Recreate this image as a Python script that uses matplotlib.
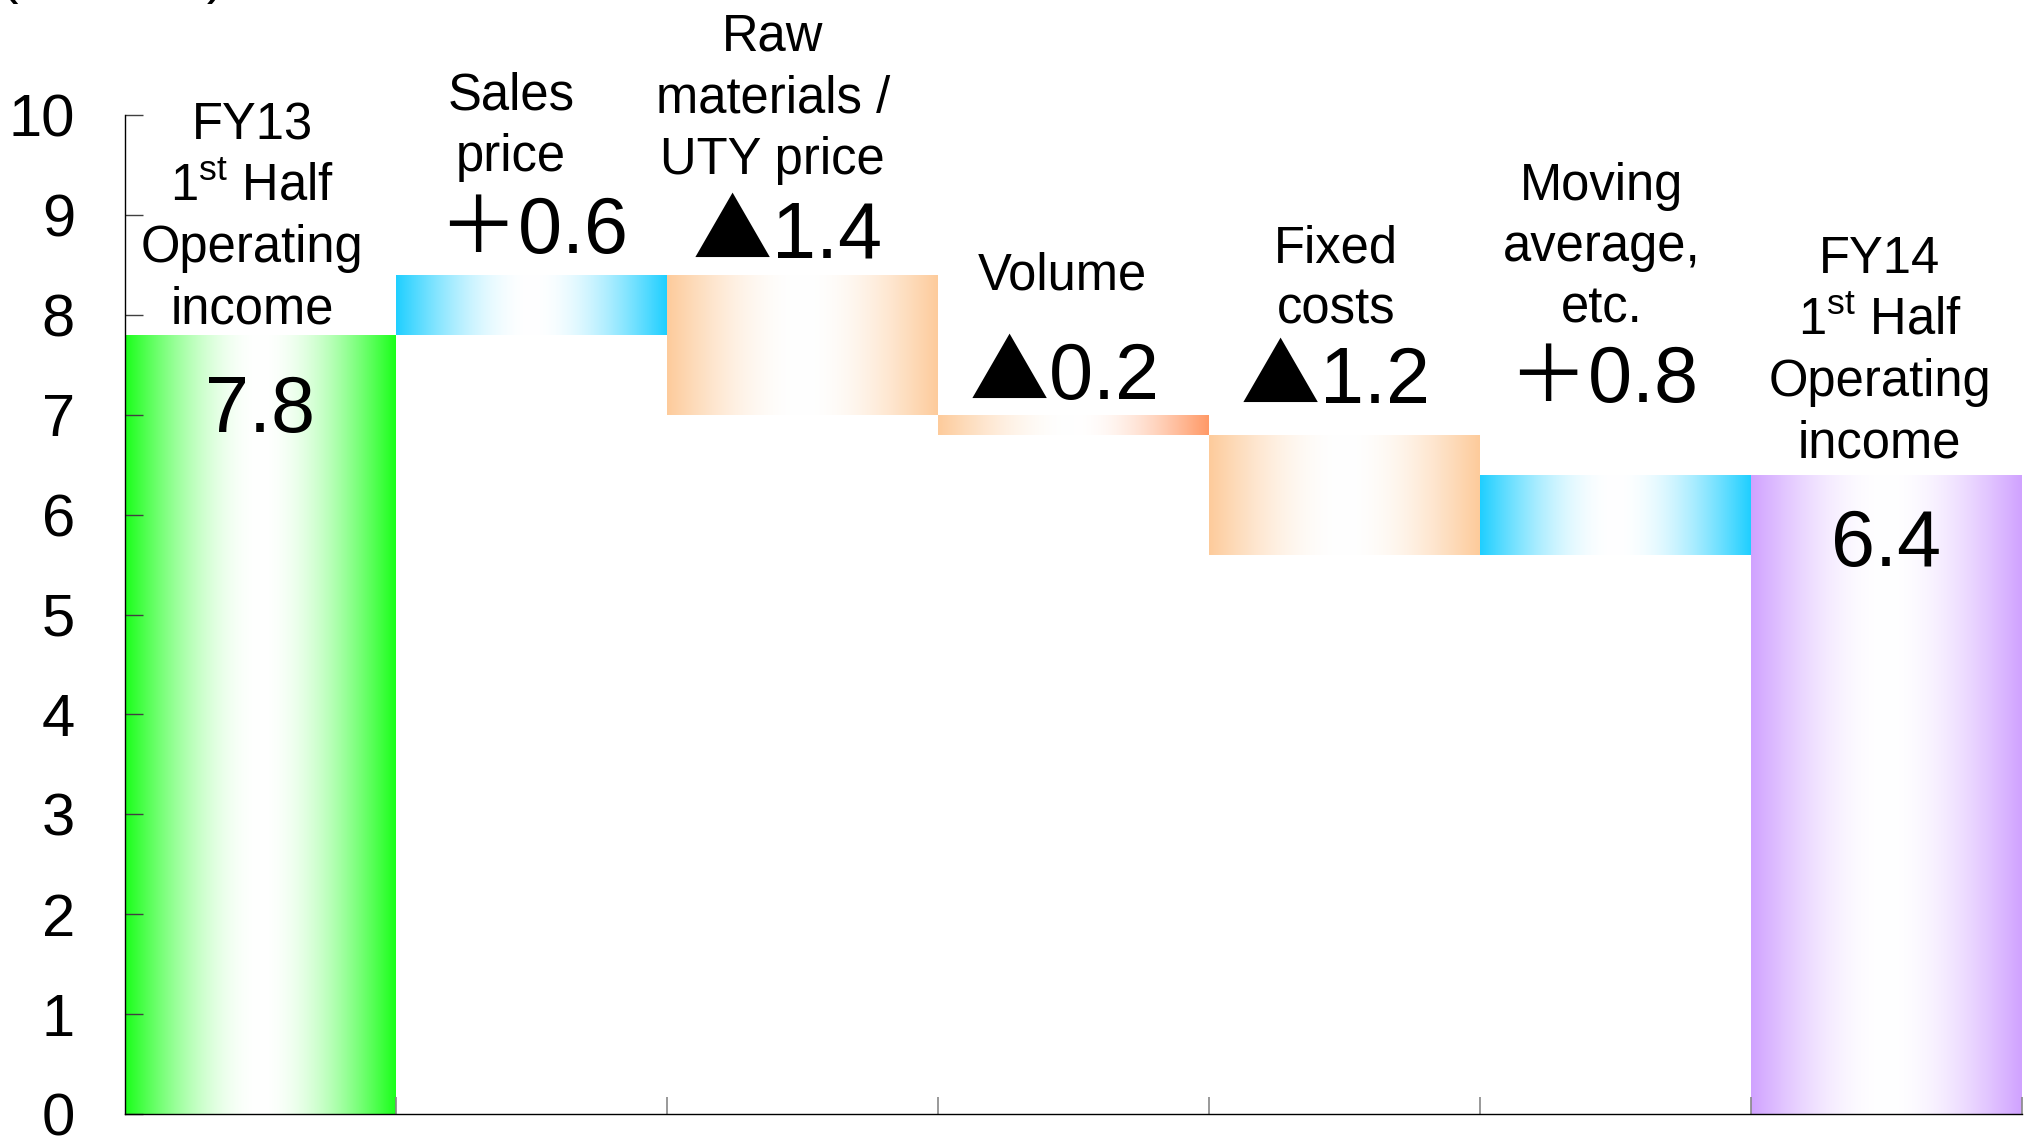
import numpy as np
import matplotlib
matplotlib.use("Agg")
import matplotlib.pyplot as plt
from matplotlib.colors import to_rgb

# ---------------- data ----------------
categories = [
    "FY13\n1$^{st}$ Half\nOperating\nincome",
    "Sales\nprice",
    "Raw\nmaterials /\nUTY price",
    "Volume",
    "Fixed\ncosts",
    "Moving\naverage,\netc.",
    "FY14\n1$^{st}$ Half\nOperating\nincome",
]
start_value = 7.8
changes = [0.6, -1.4, -0.2, -1.2, 0.8]
end_value = 6.4
value_labels = ["7.8", "＋0.6", "▲1.4", "▲0.2", "▲1.2", "＋0.8", "6.4"]
y_ticks = list(range(0, 11))
unit_label = "(¥ billion)"

# ---------------- layout / style ----------------
label_dx = [-0.03, -0.075, -0.11, -0.04, -0.03, -0.05, -0.025]
label_y = [7.91, 9.44, 9.41, 8.25, 7.91, 7.92, 6.57]   # baseline of last line
value_dx = [0.0, 0.0, -0.06, -0.04, -0.04, -0.05, 0.0]
value_y = [6.83, 8.62, 8.57, 7.16, 7.12, 7.13, 5.49]
bar_edge_colors = [
    ("#1aff1a", "#1aff1a"),
    ("#1fcfff", "#1fcfff"),
    ("#fdcb9b", "#fdcb9b"),
    ("#fdcb9b", "#ff9966"),
    ("#fdcb9b", "#fdcb9b"),
    ("#1fcfff", "#1fcfff"),
    ("#d0a2ff", "#d0a2ff"),
]

plt.rcParams["font.family"] = ["Liberation Sans", "Noto Sans CJK JP", "DejaVu Sans"]
plt.rcParams["mathtext.fontset"] = "custom"
plt.rcParams["mathtext.rm"] = "Liberation Sans"
plt.rcParams["mathtext.it"] = "Liberation Sans:italic"
plt.rcParams["mathtext.bf"] = "Liberation Sans:bold"
plt.rcParams["mathtext.sf"] = "Noto Sans CJK JP"
plt.rcParams["mathtext.default"] = "regular"

W, H = 2026, 1138
fig = plt.figure(figsize=(W / 100, H / 100), dpi=100)
ax = fig.add_axes([125 / W, (H - 1114) / H, (2022 - 125) / W, (1114 - 115) / H])

# waterfall geometry
levels = np.cumsum([start_value] + changes)
bottoms = [0.0]
heights = [start_value]
for i, c in enumerate(changes):
    bottoms.append(min(levels[i], levels[i + 1]))
    heights.append(abs(c))
bottoms.append(0.0)
heights.append(end_value)
x = np.arange(len(categories))

bars = ax.bar(x, heights, bottom=bottoms, width=1.0, color="none", edgecolor="none", zorder=1)

# horizontal gradient: edge colour -> white in the middle -> edge colour
N = 600
u = np.linspace(0, 1, N)
w = np.sin(np.pi * u)[:, None]
for i, b in enumerate(bars):
    cl, cr = (np.array(to_rgb(c)) for c in bar_edge_colors[i])
    base = np.where(u[:, None] < 0.5, cl[None, :], cr[None, :])
    rgb = base * (1 - w) + w
    img = rgb[None, :, :]
    x0 = b.get_x()
    y0 = b.get_y()
    im = ax.imshow(img, extent=[x0, x0 + b.get_width(), y0, y0 + b.get_height()],
                   aspect="auto", interpolation="bilinear", zorder=0.8)
    im.set_clip_path(b)

ax.set_xlim(-0.5, len(categories) - 0.5)
ax.set_ylim(0, 10)

# axes styling
for s in ("top", "right"):
    ax.spines[s].set_visible(False)
for s in ("left", "bottom"):
    ax.spines[s].set_color("black")
    ax.spines[s].set_linewidth(1.0)

ax.set_yticks(y_ticks)
ax.set_yticklabels([str(t) for t in y_ticks])
ax.tick_params(axis="y", direction="in", length=13, width=1.0, color="#404040",
               pad=36, labelsize=43, labelcolor="black")
ax.set_xticks(np.arange(0.5, len(categories), 1.0))
ax.tick_params(axis="x", direction="in", length=12.5, width=1.2, color="#888888",
               labelbottom=False)


def fmt_value(s):
    if s and s[0] in "＋▲":
        return r"$\mathsf{" + s[0] + "}$" + s[1:]
    return s


# labels
for i in range(len(categories)):
    ax.text(i + label_dx[i], label_y[i], categories[i], ha="center", va="baseline",
            fontsize=36.5, linespacing=1.33, multialignment="center", color="black", zorder=5)
    ax.text(i + value_dx[i], value_y[i], fmt_value(value_labels[i]), ha="center", va="baseline",
            fontsize=57, color="black", zorder=5)

fig.text(0.0, 1 + 8 / H, unit_label, ha="left", va="baseline", fontsize=40, color="black")

fig.savefig("out.png", dpi=100)
